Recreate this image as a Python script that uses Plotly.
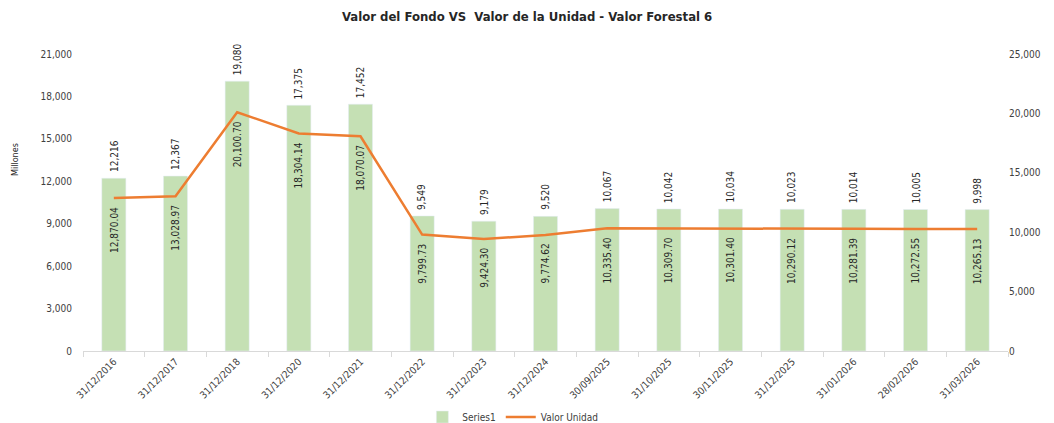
import plotly.graph_objects as go

categories = ["31/12/2016", "31/12/2017", "31/12/2018", "31/12/2020", "31/12/2021",
              "31/12/2022", "31/12/2023", "31/12/2024", "30/09/2025", "31/10/2025",
              "30/11/2025", "31/12/2025", "31/01/2026", "28/02/2026", "31/03/2026"]
fondo = [12216, 12367, 19080, 17375, 17452, 9549, 9179, 9520, 10067, 10042,
         10034, 10023, 10014, 10005, 9998]
unidad = [12870.04, 13028.97, 20100.70, 18304.14, 18070.07, 9799.73, 9424.30, 9774.62,
          10335.40, 10309.70, 10301.40, 10290.12, 10281.39, 10272.55, 10265.13]

FONT = "DejaVu Sans Condensed, Liberation Sans, sans-serif"

fig = go.Figure()
fig.add_trace(go.Bar(
    x=categories, y=fondo, name="Series1",
    marker=dict(color="#c5e0b4"), width=0.39,
))
fig.add_trace(go.Scatter(
    x=categories, y=unidad, name="Valor Unidad", yaxis="y2",
    mode="lines", line=dict(color="#ed7d31", width=2.5),
))

for c, v in zip(categories, fondo):
    fig.add_annotation(x=c, y=v, yref="y", text=f"{v:,}", textangle=-90,
                       showarrow=False, yanchor="bottom", yshift=4,
                       font=dict(size=10, color="#262626", family=FONT))

for c, v in zip(categories, unidad):
    fig.add_annotation(x=c, y=v, yref="y2", text=f"{v:,.2f}", textangle=-90,
                       showarrow=False, yanchor="top", yshift=-7,
                       font=dict(size=10, color="#262626", family=FONT))

fig.add_annotation(xref="paper", yref="paper", x=-0.081, y=0.643, text="Millones",
                   textangle=-90, showarrow=False,
                   font=dict(size=9, color="#262626", family=FONT))

fig.update_layout(
    width=1054, height=423,
    margin=dict(l=75, r=54, t=46, b=80),
    paper_bgcolor="white", plot_bgcolor="white",
    title=dict(text="<b>Valor del Fondo VS  Valor de la Unidad - Valor Forestal 6</b>",
               x=0.4925, xanchor="center", y=0.979, yanchor="middle",
               font=dict(size=13, color="#262626", family=FONT)),
    font=dict(family=FONT, color="#404040"),
    bargap=0.6,
    showlegend=True,
    legend=dict(orientation="h", xref="container", yref="container",
                x=0.479, xanchor="center", y=0.033, yanchor="middle",
                font=dict(size=10, color="#404040", family=FONT)),
    xaxis=dict(type="category", tickangle=-45, tickfont=dict(size=10, color="#404040"),
               showline=True, linecolor="#d9d9d9", ticks="outside", tickson="boundaries",
               tickcolor="#d9d9d9", ticklen=5, showgrid=False, automargin=False),
    yaxis=dict(range=[0, 21000], dtick=3000, tickformat=",d", showgrid=False,
               tickfont=dict(size=10, color="#404040"), zeroline=False, automargin=False,
               ticks="outside", ticklen=8, tickcolor="white"),
    yaxis2=dict(range=[0, 25000], dtick=5000, tickformat=",d", overlaying="y", side="right",
                showgrid=False, tickfont=dict(size=10, color="#404040"), zeroline=False,
                automargin=False),
)

fig.write_html("out.html")
